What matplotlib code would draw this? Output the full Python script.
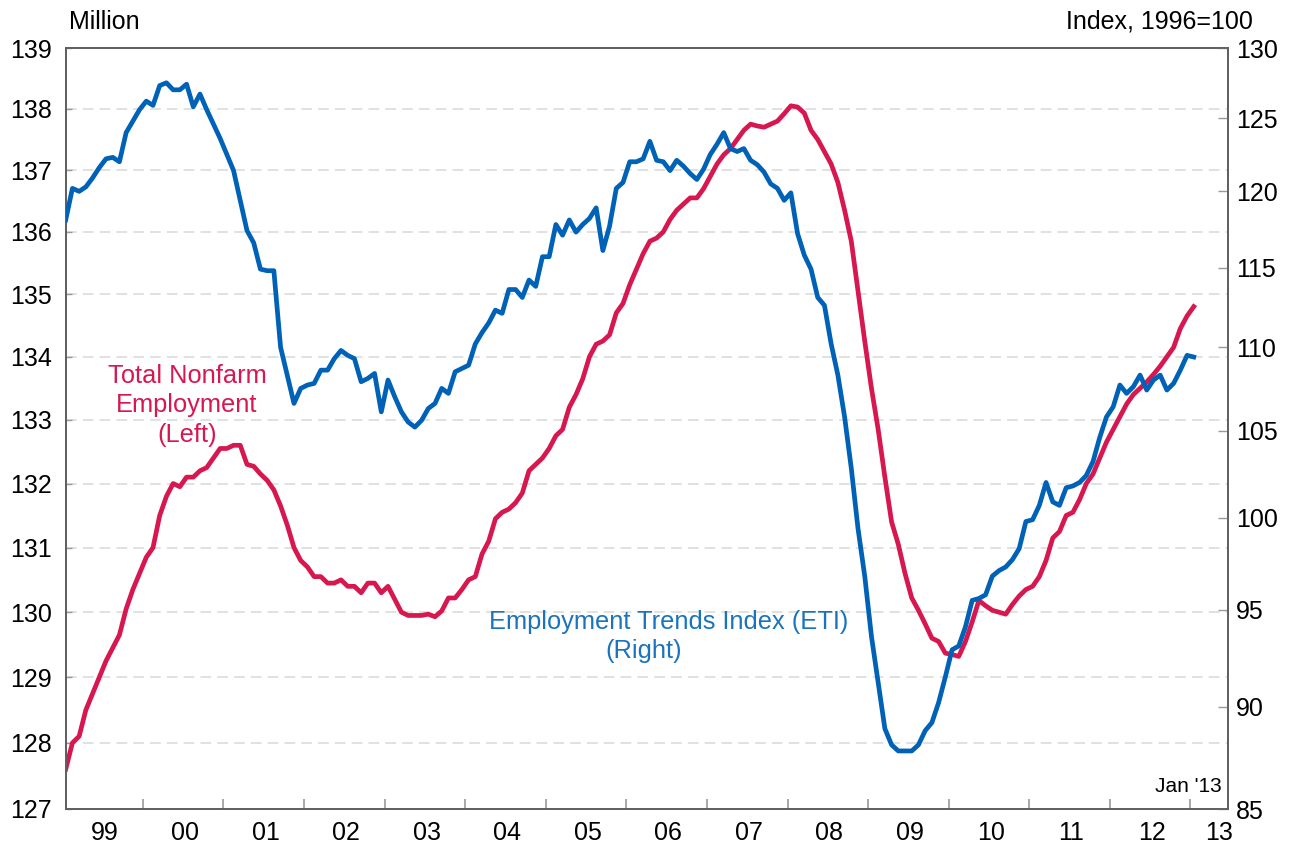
import matplotlib
matplotlib.use('Agg')
import matplotlib.pyplot as plt
from matplotlib.ticker import FixedLocator, FixedFormatter, NullLocator, NullFormatter

plt.rcParams['font.family'] = ['Liberation Sans', 'DejaVu Sans']

# ---------------- data (monthly, Jan 1999 .. Jan 2013) ----------------
months = list(range(169))  # 0 = Jan 1999

nonfarm = [  # Total Nonfarm Employment, millions (left axis)
    127.6, 128.0, 128.1, 128.5, 128.75, 129.0, 129.25, 129.45, 129.65, 130.05, 130.35, 130.6,
    130.85, 131.0, 131.5, 131.8, 132.0, 131.95, 132.1, 132.1, 132.2, 132.25, 132.4, 132.55,
    132.55, 132.6, 132.6, 132.3, 132.27, 132.15, 132.05, 131.9, 131.65, 131.35, 131.0, 130.8,
    130.7, 130.55, 130.55, 130.45, 130.45, 130.5, 130.4, 130.4, 130.3, 130.45, 130.45, 130.3,
    130.4, 130.2, 130.0, 129.95, 129.95, 129.95, 129.97, 129.93, 130.02, 130.22, 130.22, 130.35,
    130.5, 130.55, 130.9, 131.1, 131.45, 131.55, 131.6, 131.7, 131.85, 132.2, 132.3, 132.4,
    132.55, 132.75, 132.85, 133.2, 133.4, 133.65, 134.0, 134.2, 134.25, 134.35, 134.7, 134.85,
    135.15, 135.4, 135.65, 135.85, 135.9, 136.0, 136.2, 136.35, 136.45, 136.55, 136.55, 136.7,
    136.9, 137.1, 137.25, 137.35, 137.5, 137.65, 137.75, 137.72, 137.7, 137.75, 137.8, 137.92,
    138.05, 138.03, 137.93, 137.65, 137.5, 137.3, 137.1, 136.8, 136.35, 135.85, 135.05, 134.25,
    133.5, 132.85, 132.1, 131.4, 131.05, 130.6, 130.22, 130.03, 129.82, 129.6, 129.55, 129.37,
    129.35, 129.32, 129.55, 129.85, 130.18, 130.1, 130.03, 130.0, 129.97, 130.12, 130.25, 130.35,
    130.4, 130.55, 130.8, 131.15, 131.25, 131.5, 131.55, 131.75, 132.0, 132.15, 132.4, 132.65,
    132.85, 133.05, 133.25, 133.4, 133.5, 133.6, 133.72, 133.85, 134.0, 134.15, 134.45, 134.65,
    134.8,
]

eti = [  # Employment Trends Index, 1996=100 (right axis)
    118.1, 120.2, 120.0, 120.3, 120.9, 121.6, 122.2, 122.3, 122.0, 124.0, 124.8, 125.6,
    126.2, 125.9, 127.3, 127.5, 127.0, 127.0, 127.4, 125.8, 126.7, 125.6, 124.6, 123.6,
    122.5, 121.4, 119.4, 117.4, 116.6, 114.9, 114.8, 114.8, 110.0, 108.3, 106.6, 107.5,
    107.7, 107.8, 108.6, 108.6, 109.3, 109.8, 109.5, 109.3, 107.9, 108.1, 108.4, 106.1,
    108.0, 107.0, 106.1, 105.5, 105.2, 105.6, 106.3, 106.6, 107.5, 107.2, 108.5, 108.7,
    108.9, 110.2, 110.9, 111.5, 112.3, 112.1, 113.6, 113.6, 113.1, 114.2, 113.8, 115.7,
    115.7, 117.8, 117.1, 118.1, 117.3, 117.8, 118.2, 118.9, 116.1, 117.7, 120.2, 120.6,
    122.0, 122.0, 122.2, 123.4, 122.1, 122.0, 121.4, 122.1, 121.7, 121.2, 120.8, 121.5,
    122.5, 123.2, 124.0, 122.9, 122.7, 122.9, 122.1, 121.8, 121.3, 120.5, 120.2, 119.4,
    119.9, 117.2, 115.8, 114.9, 113.1, 112.6, 110.2, 108.3, 105.8, 102.8, 99.4, 96.8,
    93.6, 91.2, 88.9, 88.1, 87.8, 87.8, 87.8, 88.1, 88.8, 89.2, 90.2, 91.5,
    92.9, 93.1, 94.1, 95.5, 95.6, 95.8, 96.8, 97.1, 97.3, 97.7, 98.3, 99.8,
    99.9, 100.7, 102.0, 100.9, 100.7, 101.7, 101.8, 102.0, 102.4, 103.2, 104.6, 105.8,
    106.4, 107.7, 107.2, 107.6, 108.3, 107.4, 108.0, 108.3, 107.4, 107.8, 108.6, 109.5,
    109.4,
]

left_ticks = list(range(127, 140))
right_ticks = list(range(85, 131, 5))
year_labels = ['99', '00', '01', '02', '03', '04', '05', '06', '07', '08', '09', '10', '11', '12', '13']

# ---------------- style ----------------
RED = '#D7174F'
BLUE = '#0062B7'
BLUE_TXT = '#1A74BD'
SPINE = '#606060'
W, H = 1309, 848

fig = plt.figure(figsize=(W / 100, H / 100), dpi=100)
ax = fig.add_axes([65.7 / W, 1 - 809 / H, (1228 - 65.7) / W, (809 - 48) / H])
ax2 = ax.twinx()

ax.plot(months, nonfarm, color=RED, lw=3.4, solid_joinstyle='round', zorder=3)
ax2.plot(months, eti, color=BLUE, lw=3.4, solid_joinstyle='round', zorder=3)

# x axis
year_bounds = [11.5 + 12 * k for k in range(14)]
label_pos = [5.75 + 12 * k for k in range(14)] + [171.8]
ax.set_xlim(0, 173.1)
ax.xaxis.set_major_locator(FixedLocator(year_bounds))
ax.xaxis.set_major_formatter(NullFormatter())
ax.xaxis.set_minor_locator(FixedLocator(label_pos))
ax.xaxis.set_minor_formatter(FixedFormatter(year_labels))
ax.tick_params(axis='x', which='major', direction='in', length=7, width=1.2, color='#999999')
ax.tick_params(axis='x', which='minor', length=0, labelsize=18, pad=9)

# left axis (log)
ax.set_yscale('log')
ax.set_ylim(127, 139)
ax.yaxis.set_major_locator(FixedLocator(left_ticks))
ax.yaxis.set_major_formatter(FixedFormatter([str(v) for v in left_ticks]))
ax.yaxis.set_minor_locator(NullLocator())
ax.tick_params(axis='y', which='major', direction='in', length=4, width=1, color='#999999',
               labelsize=18, pad=10)
ax.yaxis.grid(True, which='major', linestyle=(0, (7, 4)), color='#d9d9d9', linewidth=1.1)
ax.set_axisbelow(True)

# right axis (log)
ax2.set_yscale('log')
ax2.set_ylim(85, 130)
ax2.yaxis.set_major_locator(FixedLocator(right_ticks))
ax2.yaxis.set_major_formatter(FixedFormatter([str(v) for v in right_ticks]))
ax2.yaxis.set_minor_locator(NullLocator())
ax2.tick_params(axis='y', which='major', direction='in', length=7, width=1, color='#999999',
                labelsize=18, pad=6)

for a in (ax, ax2):
    for s in a.spines.values():
        s.set_color(SPINE)
        s.set_linewidth(1.3)

# texts
fig.text(69 / W, 1 - 29.3 / H, 'Million', fontsize=18, ha='left', va='baseline')
fig.text(1253 / W, 1 - 28 / H, 'Index, 1996=100', fontsize=18, ha='right', va='baseline')
fig.text(1221.7 / W, 1 - 791.7 / H, "Jan '13", fontsize=15, ha='right', va='baseline')

for txt, yb in [('Total Nonfarm', 382.7), ('Employment', 412.2), ('(Left)', 441.7)]:
    fig.text(187 / W, 1 - yb / H, txt, fontsize=18.3, color=RED, ha='center', va='baseline')

fig.text(489 / W, 1 - 629.3 / H, 'Employment Trends Index (ETI)', fontsize=18.3, color=BLUE_TXT,
         ha='left', va='baseline')
fig.text(605 / W, 1 - 658.3 / H, '(Right)', fontsize=18.3, color=BLUE_TXT, ha='left', va='baseline')

fig.savefig('out.png', dpi=100)
